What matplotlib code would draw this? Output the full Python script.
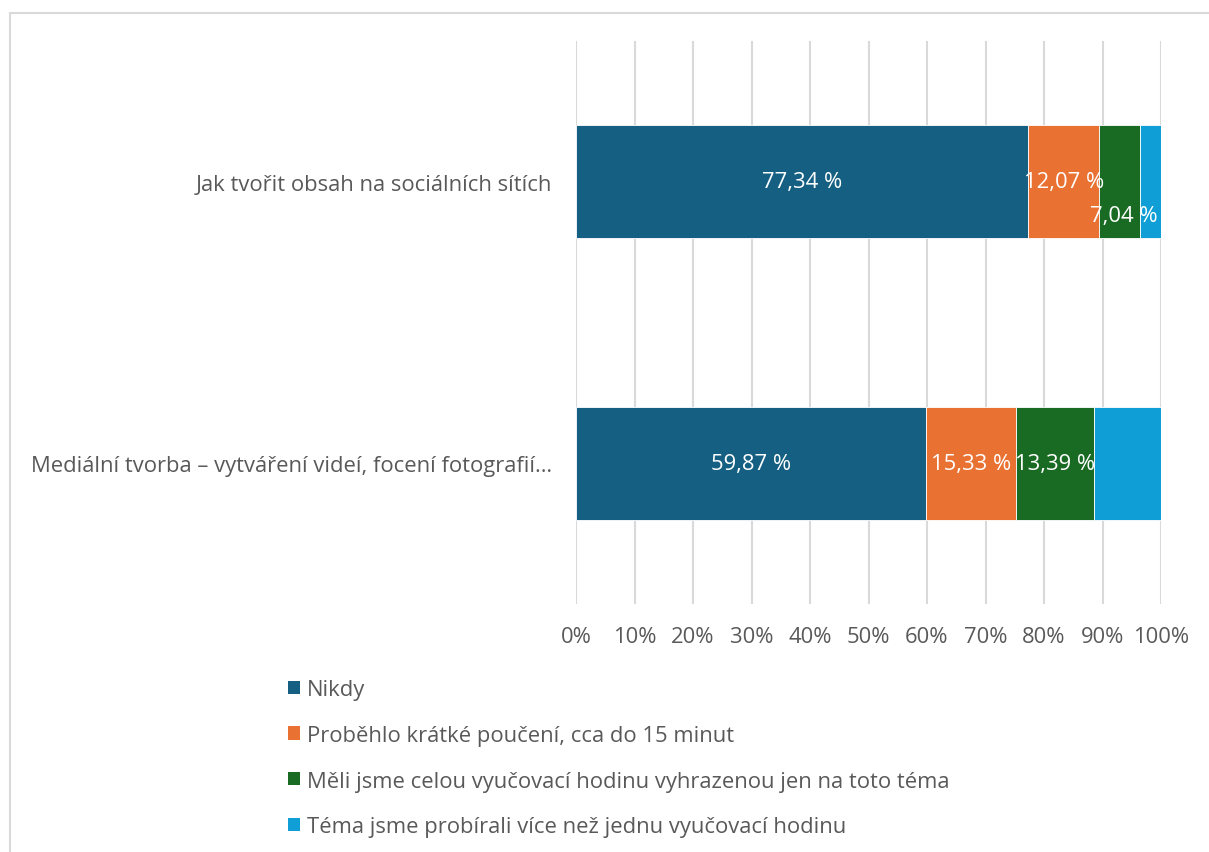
import matplotlib
matplotlib.use("Agg")
import matplotlib.pyplot as plt
from matplotlib.patches import Rectangle, Patch
from matplotlib.transforms import offset_copy

plt.rcParams['font.family'] = ['Open Sans', 'DejaVu Sans']

categories = [
    "Jak tvořit obsah na sociálních sítích",
    "Mediální tvorba – vytváření videí, focení fotografií…",
]
series_names = [
    "Nikdy",
    "Proběhlo krátké poučení, cca do 15 minut",
    "Měli jsme celou vyučovací hodinu vyhrazenou jen na toto téma",
    "Téma jsme probírali více než jednu vyučovací hodinu",
]
nikdy = [77.34, 59.87]
kratke = [12.07, 15.33]
cela_hodina = [7.04, 13.39]
vice_hodin = [3.55, 11.41]
colors = ["#156082", "#E97132", "#196B24", "#0F9ED5"]
tick_values = [0, 10, 20, 30, 40, 50, 60, 70, 80, 90, 100]
tick_labels = [f"{v}%" for v in tick_values]

series = [nikdy, kratke, cela_hodina, vice_hodin]
# which series carry data labels, and vertical label offsets (points) per row
show_labels = [True, True, True, False]
label_dy = {(2, 0): -24}

text_color = "#595959"
grid_color = "#d9d9d9"
fs = 15.8

fig = plt.figure(figsize=(12.09, 8.53), dpi=100)
W, H = 1209, 853

# outer chart-area frame
fig.patches.append(Rectangle((10 / W, -0.1), 1.2, 1 - 14 / H + 0.1,
                             transform=fig.transFigure, fill=False,
                             edgecolor=grid_color, linewidth=1.5))

ax = fig.add_axes([576 / W, 1 - 605 / H, (1161 - 576) / W, (605 - 42) / H])

y = list(range(len(categories)))
left = [0.0] * len(categories)
for si, (vals, col) in enumerate(zip(series, colors)):
    ax.barh(y, vals, left=left, height=0.40, color=col, edgecolor="white",
            linewidth=0.6, label=series_names[si], zorder=3)
    if show_labels[si]:
        for ri, v in enumerate(vals):
            dy = label_dy.get((si, ri), 0)
            tr = offset_copy(ax.transData, fig=fig, x=3 if dy else 0, y=dy, units='points')
            ax.text(left[ri] + v / 2, ri, f"{v:.2f} %".replace(".", ","),
                    ha="center", va="center", color="white", fontsize=fs,
                    transform=tr, zorder=4)
    left = [l + v for l, v in zip(left, vals)]

ax.set_xlim(0, 100)
ax.set_ylim(1.5, -0.5)
ax.set_xticks(tick_values)
ax.set_xticklabels(tick_labels, fontsize=fs, color=text_color)
ax.set_yticks(y)
ax.set_yticklabels(categories, fontsize=fs, color=text_color)
ax.tick_params(axis="x", length=0, pad=16)
ax.tick_params(axis="y", length=0, pad=17)
ax.grid(axis="x", color=grid_color, linewidth=1.5, zorder=0)
ax.set_axisbelow(True)
for s in ax.spines.values():
    s.set_visible(False)

handles = [Patch(facecolor=c, edgecolor="none") for c in colors]
fig.legend(handles, series_names, loc="upper left",
           bbox_to_anchor=(288 / W, 1 - 680 / H), frameon=False,
           fontsize=fs, labelcolor=text_color, handlelength=0.55,
           handleheight=0.55, handletextpad=0.3, labelspacing=1.13,
           borderaxespad=0, borderpad=0)

fig.savefig("out.png", dpi=100)
